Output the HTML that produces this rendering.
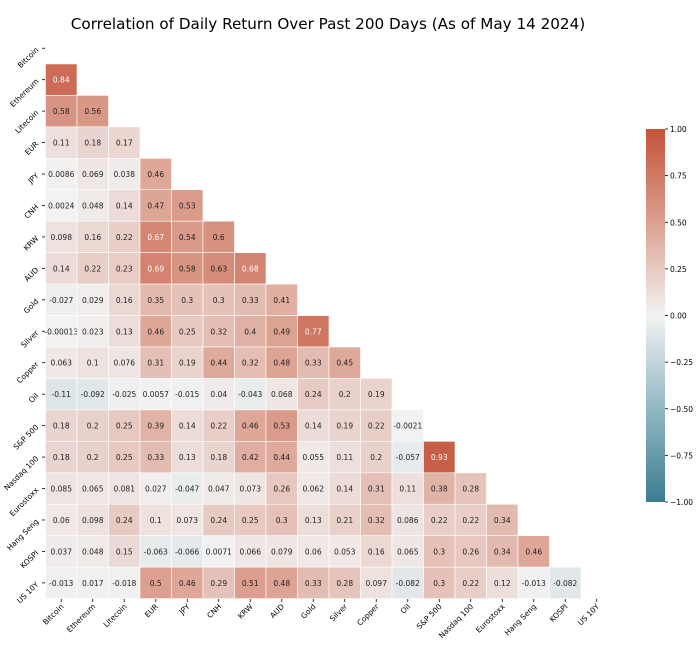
<!DOCTYPE html>
<html><head><meta charset="utf-8"><style>
html,body{margin:0;padding:0;background:#fff;}
svg{display:block;font-family:"DejaVu Sans","Liberation Sans",sans-serif;}
</style></head><body>
<svg id="s" width="700" height="651" viewBox="0 0 700 651" xmlns="http://www.w3.org/2000/svg">
<defs><linearGradient id="cb" x1="0" y1="1" x2="0" y2="0">
<stop offset="0" stop-color="rgb(60,125,145)"/>
<stop offset="0.25" stop-color="rgb(146,184,195)"/>
<stop offset="0.5" stop-color="rgb(242,242,242)"/>
<stop offset="0.75" stop-color="rgb(220,160,144)"/>
<stop offset="1" stop-color="rgb(196,83,58)"/>
</linearGradient></defs>
<text x="328" y="29" font-size="15.2" text-anchor="middle">Correlation of Daily Return Over Past 200 Days (As of May 14 2024)</text>
<rect x="646" y="129" width="19" height="373" fill="url(#cb)"/>
</svg>
<script>
const names=["Bitcoin","Ethereum","Litecoin","EUR","JPY","CNH","KRW","AUD","Gold","Silver","Copper","Oil","S&P 500","Nasdaq 100","Eurostoxx","Hang Seng","KOSPI","US 10Y"];
const d=[[],[0.84],[0.58,0.56],[0.11,0.18,0.17],[0.0086,0.069,0.038,0.46],[0.0024,0.048,0.14,0.47,0.53],
[0.098,0.16,0.22,0.67,0.54,0.6],[0.14,0.22,0.23,0.69,0.58,0.63,0.68],[-0.027,0.029,0.16,0.35,0.3,0.3,0.33,0.41],
[-0.00013,0.023,0.13,0.46,0.25,0.32,0.4,0.49,0.77],[0.063,0.1,0.076,0.31,0.19,0.44,0.32,0.48,0.33,0.45],
[-0.11,-0.092,-0.025,0.0057,-0.015,0.04,-0.043,0.068,0.24,0.2,0.19],
[0.18,0.2,0.25,0.39,0.14,0.22,0.46,0.53,0.14,0.19,0.22,-0.0021],
[0.18,0.2,0.25,0.33,0.13,0.18,0.42,0.44,0.055,0.11,0.2,-0.057,0.93],
[0.085,0.065,0.081,0.027,-0.047,0.047,0.073,0.26,0.062,0.14,0.31,0.11,0.38,0.28],
[0.06,0.098,0.24,0.1,0.073,0.24,0.25,0.3,0.13,0.21,0.32,0.086,0.22,0.22,0.34],
[0.037,0.048,0.15,-0.063,-0.066,0.0071,0.066,0.079,0.06,0.053,0.16,0.065,0.3,0.26,0.34,0.46],
[-0.013,0.017,-0.018,0.5,0.46,0.29,0.51,0.48,0.33,0.28,0.097,-0.082,0.3,0.22,0.12,-0.013,-0.082]];
const stops=[[-1,[60,125,145]],[-0.5,[146,184,195]],[0,[242,242,242]],[0.5,[220,160,144]],[1,[196,83,58]]];
function col(v){for(let i=0;i<4;i++){const [a,ca]=stops[i],[b,cb]=stops[i+1];if(v<=b){const t=(v-a)/(b-a);return ca.map((c,k)=>Math.round(c+(cb[k]-c)*t));}}return stops[4][1];}
const s=document.getElementById('s');let h='';
const x0=45.5,y0=32.5,cw=31.5,ch=31.45;
for(let i=0;i<18;i++){for(let j=0;j<d[i].length;j++){const v=d[i][j],c=col(v),x=x0+j*cw,y=y0+i*ch;
h+=`<rect x="${x}" y="${y}" width="${cw}" height="${ch}" fill="rgb(${c})" stroke="#fff" stroke-width="0.6"/>`;
const lum=(0.299*c[0]+0.587*c[1]+0.114*c[2])/255;
h+=`<text x="${x+cw/2}" y="${y+ch/2+3}" font-size="7.5" text-anchor="middle" fill="${lum<0.62?'#fff':'#222'}">${v}</text>`;}}
for(let i=0;i<18;i++){const y=y0+i*ch+ch/2;h+=`<line x1="42" x2="45" y1="${y}" y2="${y}" stroke="#000" stroke-width="0.8"/>`;
h+=`<text transform="translate(39,${y+2}) rotate(-45)" font-size="7.5" text-anchor="end">${names[i].replace('&','&amp;')}</text>`;
const x=x0+i*cw+cw/2;h+=`<line x1="${x}" x2="${x}" y1="599" y2="602" stroke="#000" stroke-width="0.8"/>`;
h+=`<text transform="translate(${x+3},607) rotate(-45)" font-size="7.5" text-anchor="end">${names[i].replace('&','&amp;')}</text>`;}
[1,0.75,0.5,0.25,0,-0.25,-0.5,-0.75,-1].forEach(v=>{const y=129+(1-v)/2*373;h+=`<line x1="665" x2="668" y1="${y}" y2="${y}" stroke="#000" stroke-width="0.8"/><text x="670" y="${y+3}" font-size="7.5">${v.toFixed(2).replace('-','−')}</text>`;});
s.insertAdjacentHTML('beforeend',h);
</script>
</body></html>
